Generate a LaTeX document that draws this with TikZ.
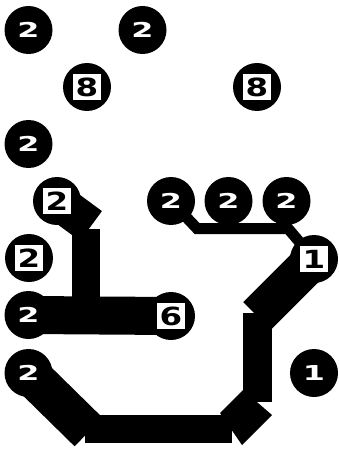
\documentclass[tikz,border=0pt]{standalone}
\usepackage{fontspec}
\usepackage{graphicx}
\setmainfont{DejaVu Sans}
\pgfdeclarelayer{background}
\pgfsetlayers{background,main}
\newcommand\wdg[1]{\scalebox{1.55}[1]{#1}}
\newcommand\bdg[1]{\scalebox{1.3}[1]{#1}}
\begin{document}
\begin{tikzpicture}[x=1pt,y=-1pt,
  isle/.style={circle, fill=black, minimum size=48pt, inner sep=0pt, text=white,
    font=\bfseries\fontsize{20.5}{20.5}\selectfont},
  tag/.style={rectangle, fill=white, draw=black, line width=1.5pt, minimum width=30pt,
    minimum height=28pt, inner sep=0pt, text=black, font=\bfseries\fontsize{25}{25}\selectfont},
  wide/.style={line width=#1, line cap=butt, draw=black},
  thinlink/.style={line width=11pt, line cap=butt, line join=miter, draw=black}]
\useasboundingbox (0,0) rectangle (339,449);
% islands
\node[isle] (n1) at (28.5,30) {\wdg{2}};
\node[isle] (n2) at (142.5,30) {\wdg{2}};
\node[isle] (n3) at (87,87) {};
\node[tag] (n3t) at (n3) {\bdg{8}};
\node[isle] (n4) at (257,87) {};
\node[tag] (n4t) at (n4) {\bdg{8}};
\node[isle] (n5) at (28.5,144) {\wdg{2}};
\node[isle] (n6) at (57,201) {};
\node[tag] (n6t) at (n6) {\bdg{2}};
\node[isle] (n7) at (171,201) {\wdg{2}};
\node[isle] (n8) at (228.5,201) {\wdg{2}};
\node[isle] (n9) at (286.5,201) {\wdg{2}};
\node[isle] (n10) at (314,259) {};
\node[tag] (n10t) at (n10) {\bdg{1}};
\node[isle] (n11) at (29,258) {};
\node[tag] (n11t) at (n11) {\bdg{2}};
\node[isle] (n12) at (28.5,315) {\wdg{2}};
\node[isle] (n13) at (171,316) {};
\node[tag] (n13t) at (n13) {\bdg{6}};
\node[isle] (n14) at (314,373) {\wdg{1}};
\node[isle] (n15) at (28.5,373) {\wdg{2}};
% free ends
\coordinate (a1) at (91,226);
\coordinate (b1) at (86,229);
\coordinate (b2) at (86,316);
\coordinate (t1) at (197,228.5);
\coordinate (t2) at (288,228.5);
\coordinate (e1) at (257,316);
\coordinate (f1) at (257.5,313);
\coordinate (f2) at (257.5,402);
\coordinate (d1) at (88.6,432);
\coordinate (h1) at (85,429);
\coordinate (h2) at (232,429);
\begin{pgfonlayer}{background}
\draw[wide=37pt] (n6.center) -- (a1);
\draw[wide=28pt] (b1) -- (b2);
\draw[wide=38pt] (n12.center) -- (n13.center);
\draw[thinlink] (n7.center) -- (t1) -- (t2) -- (n10.center);
\draw[wide=39pt] (n10.center) -- (e1);
\draw[wide=29pt] (f1) -- (f2);
\fill[black] (243,390) -- (272,415) -- (242,445) -- (220,413) -- cycle;
\draw[wide=28pt] (h1) -- (h2);
\draw[wide=40pt] (n15.center) -- (d1);
\end{pgfonlayer}
\end{tikzpicture}
\end{document}
